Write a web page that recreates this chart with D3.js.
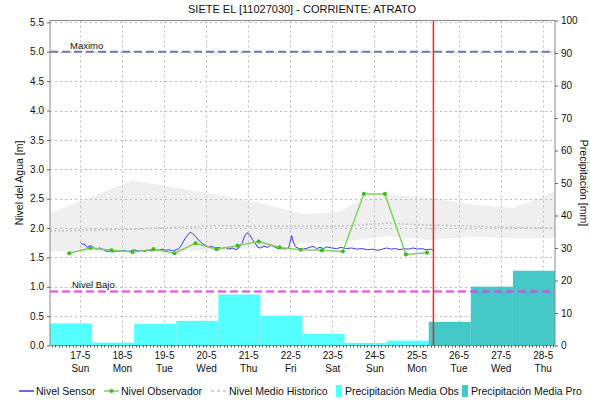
<!DOCTYPE html>
<html>
<head>
<meta charset="utf-8">
<script src="https://cdn.jsdelivr.net/npm/d3@7"></script>
<style>
  body { margin: 0; background: #fff; }
  text { font-family: "Liberation Sans", Arial, sans-serif; fill: #111; }
</style>
</head>
<body>
<div id="chart"></div>
<script>
// --- data ---
const dayLabels = ['17-5', '18-5', '19-5', '20-5', '21-5', '22-5', '23-5', '24-5', '25-5', '26-5', '27-5', '28-5'];
const weekDays = ['Sun', 'Mon', 'Tue', 'Wed', 'Thu', 'Fri', 'Sat', 'Sun', 'Mon', 'Tue', 'Wed', 'Thu'];
const levelTicks = [0, 0.5, 1, 1.5, 2, 2.5, 3, 3.5, 4, 4.5, 5, 5.5];
const rainTicks = [0, 10, 20, 30, 40, 50, 60, 70, 80, 90, 100];

const nivelMaximo = 5.0;
const nivelBajo = 0.92;
const ahora = '2020-05-25 09:40';

// precipitation, daily periods 07:00 -> 07:00 (mm)
const precipObsStart = ['2020-05-16 07:00', '2020-05-17 07:00', '2020-05-18 07:00', '2020-05-19 07:00', '2020-05-20 07:00',
  '2020-05-21 07:00', '2020-05-22 07:00', '2020-05-23 07:00', '2020-05-24 07:00'];
const precipObs = [6.8, 0.9, 6.7, 7.6, 15.7, 9.2, 3.6, 0.8, 1.5];
const precipProStart = ['2020-05-25 07:00', '2020-05-26 07:00', '2020-05-27 07:00'];
const precipPro = [7.3, 18.1, 23.0];

// historical band and mean
const histTimes = ['2020-05-16 07:00', '2020-05-18 06:00', '2020-05-20 07:00', '2020-05-21 07:00', '2020-05-22 07:00',
  '2020-05-23 03:00', '2020-05-23 15:00', '2020-05-24 07:00', '2020-05-25 07:00', '2020-05-26 07:00', '2020-05-27 07:00', '2020-05-28 07:00'];
const histMax = [2.25, 2.81, 2.56, 2.42, 2.24, 2.27, 2.45, 2.57, 2.52, 2.40, 2.34, 2.62];
const histMin = [1.60, 1.60, 1.62, 1.66, 1.74, 1.77, 1.80, 1.86, 1.80, 1.85, 1.83, 1.83];
const histMedio = [1.95, 1.98, 2.04, 2.03, 2.03, 2.03, 2.05, 2.08, 2.05, 2.03, 2.01, 2.00];

// observer readings (06:00 / 18:00)
const obsTimes = ['2020-05-16 18:00', '2020-05-17 06:00', '2020-05-17 18:00', '2020-05-18 06:00', '2020-05-18 18:00',
  '2020-05-19 06:00', '2020-05-19 18:00', '2020-05-20 06:00', '2020-05-20 18:00', '2020-05-21 06:00', '2020-05-21 18:00',
  '2020-05-22 06:00', '2020-05-22 18:00', '2020-05-23 06:00', '2020-05-23 18:00', '2020-05-24 06:00', '2020-05-24 18:00', '2020-05-25 06:00'];
const obsValues = [1.57, 1.66, 1.62, 1.59, 1.64, 1.57, 1.74, 1.64, 1.70, 1.77, 1.67, 1.63, 1.62, 1.60, 2.58, 2.58, 1.55, 1.58];

// sensor series
const sensor = [
  ['2020-05-17 00:30', 1.75], ['2020-05-17 01:30', 1.72], ['2020-05-17 02:30', 1.73], ['2020-05-17 03:30', 1.69],
  ['2020-05-17 04:30', 1.67], ['2020-05-17 05:30', 1.70], ['2020-05-17 06:45', 1.69], ['2020-05-17 08:00', 1.66],
  ['2020-05-17 09:30', 1.64], ['2020-05-17 11:00', 1.66], ['2020-05-17 12:30', 1.65], ['2020-05-17 14:00', 1.62],
  ['2020-05-17 15:30', 1.60], ['2020-05-17 17:00', 1.61], ['2020-05-17 19:00', 1.59], ['2020-05-17 21:00', 1.61],
  ['2020-05-17 23:00', 1.60], ['2020-05-18 01:00', 1.62], ['2020-05-18 03:00', 1.60], ['2020-05-18 05:00', 1.61],
  ['2020-05-18 07:00', 1.63], ['2020-05-18 09:00', 1.61], ['2020-05-18 11:00', 1.62], ['2020-05-18 13:00', 1.60],
  ['2020-05-18 15:00', 1.62], ['2020-05-18 17:00', 1.61], ['2020-05-18 19:00', 1.63], ['2020-05-18 21:00', 1.62],
  ['2020-05-18 23:00', 1.64], ['2020-05-19 01:00', 1.62], ['2020-05-19 03:00', 1.63], ['2020-05-19 05:00', 1.61],
  ['2020-05-19 07:00', 1.63], ['2020-05-19 08:30', 1.65], ['2020-05-19 10:00', 1.71], ['2020-05-19 12:00', 1.82],
  ['2020-05-19 13:30', 1.88], ['2020-05-19 15:00', 1.93], ['2020-05-19 16:30', 1.90], ['2020-05-19 18:00', 1.86],
  ['2020-05-19 19:30', 1.80], ['2020-05-19 21:00', 1.76], ['2020-05-19 22:30', 1.72], ['2020-05-20 00:00', 1.70],
  ['2020-05-20 01:30', 1.67], ['2020-05-20 03:00', 1.69], ['2020-05-20 05:00', 1.66], ['2020-05-20 07:00', 1.67],
  ['2020-05-20 09:00', 1.65], ['2020-05-20 11:00', 1.67], ['2020-05-20 13:00', 1.64], ['2020-05-20 15:00', 1.66],
  ['2020-05-20 17:00', 1.63], ['2020-05-20 19:00', 1.67], ['2020-05-20 20:30', 1.74], ['2020-05-20 22:00', 1.86],
  ['2020-05-20 23:30', 1.92], ['2020-05-21 01:00', 1.88], ['2020-05-21 02:30', 1.80], ['2020-05-21 04:00', 1.74],
  ['2020-05-21 05:30', 1.67], ['2020-05-21 07:00', 1.66], ['2020-05-21 09:00', 1.69], ['2020-05-21 11:00', 1.67],
  ['2020-05-21 13:00', 1.71], ['2020-05-21 15:00', 1.68], ['2020-05-21 17:00', 1.65], ['2020-05-21 19:00', 1.66],
  ['2020-05-21 21:00', 1.64], ['2020-05-21 23:00', 1.66], ['2020-05-21 23:50', 1.75], ['2020-05-22 00:50', 1.87],
  ['2020-05-22 01:45', 1.76], ['2020-05-22 03:00', 1.68], ['2020-05-22 05:00', 1.65], ['2020-05-22 07:30', 1.64],
  ['2020-05-22 10:00', 1.66], ['2020-05-22 13:00', 1.69], ['2020-05-22 15:00', 1.65], ['2020-05-22 17:00', 1.67],
  ['2020-05-22 19:00', 1.65], ['2020-05-22 21:00', 1.68], ['2020-05-22 23:30', 1.66], ['2020-05-23 02:30', 1.65],
  ['2020-05-23 05:00', 1.67], ['2020-05-23 08:00', 1.65], ['2020-05-23 11:00', 1.66], ['2020-05-23 14:00', 1.64],
  ['2020-05-23 17:00', 1.65], ['2020-05-23 20:00', 1.63], ['2020-05-23 23:00', 1.64], ['2020-05-24 02:00', 1.62],
  ['2020-05-24 04:30', 1.64], ['2020-05-24 07:00', 1.66], ['2020-05-24 09:30', 1.64], ['2020-05-24 12:00', 1.65],
  ['2020-05-24 14:30', 1.63], ['2020-05-24 17:00', 1.65], ['2020-05-24 19:30', 1.64], ['2020-05-24 22:00', 1.66],
  ['2020-05-25 00:30', 1.64], ['2020-05-25 03:00', 1.65], ['2020-05-25 05:30', 1.63], ['2020-05-25 08:00', 1.64],
  ['2020-05-25 09:40', 1.62]
];

// --- chart ---
const W = 590, H = 400;
const plotL = 50, plotR = 555, plotT = 20.5, plotB = 345.5;
const parse = d3.utcParse('%Y-%m-%d %H:%M');
const DAY = 864e5;

const svg = d3.select('#chart').append('svg').attr('width', W).attr('height', H);

const x = d3.scaleUtc()
  .domain([parse('2020-05-16 07:00'), parse('2020-05-28 07:00')])
  .range([plotL, plotR]);
const yL = d3.scaleLinear().domain([0, 5.5]).range([plotB, plotB - 5.5 * 58.75]);
const yR = d3.scaleLinear().domain([0, 100]).range([plotB, plotT]);

const dayTicks = dayLabels.map((d, i) => new Date(Date.UTC(2020, 4, 17 + i)));

// historical band
const hist = histTimes.map((t, i) => ({t: parse(t), max: histMax[i], min: histMin[i], mid: histMedio[i]}));
svg.append('path')
  .datum(hist)
  .attr('fill', '#efefef')
  .attr('d', d3.area().x(d => x(d.t)).y0(d => yL(d.min)).y1(d => yL(d.max)));

// grid
const grid = svg.append('g').attr('stroke', '#bcbcbc').attr('stroke-dasharray', '2,3').attr('stroke-width', 1);
grid.selectAll('.hg').data(levelTicks.slice(1)).enter().append('line')
  .attr('x1', plotL).attr('x2', plotR)
  .attr('y1', d => Math.round(yL(d)) + 0.5).attr('y2', d => Math.round(yL(d)) + 0.5);
grid.selectAll('.vg').data(dayTicks).enter().append('line')
  .attr('x1', d => Math.round(x(d)) + 0.5).attr('x2', d => Math.round(x(d)) + 0.5)
  .attr('y1', plotT).attr('y2', plotB);

// historical mean (dotted)
svg.append('path')
  .datum(hist)
  .attr('fill', 'none')
  .attr('stroke', '#c4c4c4')
  .attr('stroke-width', 1.5)
  .attr('stroke-dasharray', '2,2')
  .attr('d', d3.line().x(d => x(d.t)).y(d => yL(d.mid)));

// precipitation bars
const bars = svg.append('g');
bars.selectAll('.obs').data(precipObs).enter().append('rect')
  .attr('x', (d, i) => x(parse(precipObsStart[i])))
  .attr('width', (d, i) => x(new Date(+parse(precipObsStart[i]) + DAY)) - x(parse(precipObsStart[i])))
  .attr('y', d => yR(d))
  .attr('height', d => yR(0) - yR(d))
  .attr('fill', '#55ffff');
bars.selectAll('.pro').data(precipPro).enter().append('rect')
  .attr('x', (d, i) => x(parse(precipProStart[i])))
  .attr('width', (d, i) => x(new Date(+parse(precipProStart[i]) + DAY)) - x(parse(precipProStart[i])))
  .attr('y', d => yR(d))
  .attr('height', d => yR(0) - yR(d))
  .attr('fill', '#44c8c8');

// sensor line
svg.append('path')
  .datum(sensor)
  .attr('fill', 'none')
  .attr('stroke', '#3b3bf5')
  .attr('stroke-width', 1)
  .attr('d', d3.line().x(d => x(parse(d[0]))).y(d => yL(d[1])));

// observer line
const obs = obsTimes.map((t, i) => ({t: parse(t), v: obsValues[i]}));
svg.append('path')
  .datum(obs)
  .attr('fill', 'none')
  .attr('stroke', '#7fd35a')
  .attr('stroke-width', 1.5)
  .attr('d', d3.line().x(d => x(d.t)).y(d => yL(d.v)));
svg.selectAll('.om').data(obs).enter().append('circle')
  .attr('cx', d => x(d.t)).attr('cy', d => yL(d.v)).attr('r', 2.1)
  .attr('fill', '#3fbf1f');

// thresholds
svg.append('line')
  .attr('x1', plotL).attr('x2', plotR)
  .attr('y1', yL(nivelMaximo)).attr('y2', yL(nivelMaximo))
  .attr('stroke', '#6b7cab').attr('stroke-width', 2).attr('stroke-dasharray', '8,4');
svg.append('text').attr('x', 70).attr('y', yL(nivelMaximo) - 3)
  .attr('font-size', 9.5).text('Maximo');
svg.append('line')
  .attr('x1', plotL).attr('x2', plotR)
  .attr('y1', yL(nivelBajo)).attr('y2', yL(nivelBajo))
  .attr('stroke', '#ee40ee').attr('stroke-width', 2).attr('stroke-dasharray', '8,4');
svg.append('text').attr('x', 72).attr('y', yL(nivelBajo) - 3)
  .attr('font-size', 9.5).text('Nivel Bajo');

// current time marker
const xNow = x(parse(ahora));
svg.append('line')
  .attr('x1', xNow).attr('x2', xNow).attr('y1', plotT).attr('y2', plotB)
  .attr('stroke', '#e02a2a').attr('stroke-width', 1.5);

// frame
svg.append('rect')
  .attr('x', plotL).attr('y', plotT).attr('width', plotR - plotL).attr('height', plotB - plotT)
  .attr('fill', 'none').attr('stroke', '#8a8a8a');

// left axis
const axL = svg.append('g').attr('transform', `translate(${plotL},0)`)
  .call(d3.axisLeft(yL).tickValues(levelTicks).tickFormat(d3.format('.1f')).tickSize(3));
axL.select('.domain').remove();
axL.selectAll('line').attr('stroke', '#666');
axL.selectAll('text').attr('font-size', 10).attr('fill', '#111').attr('font-family', '"Liberation Sans", Arial, sans-serif');

// right axis
const axR = svg.append('g').attr('transform', `translate(${plotR},0)`)
  .call(d3.axisRight(yR).tickValues(rainTicks).tickSize(3));
axR.select('.domain').remove();
axR.selectAll('line').attr('stroke', '#666');
axR.selectAll('text').attr('font-size', 10).attr('fill', '#111').attr('font-family', '"Liberation Sans", Arial, sans-serif');

// bottom axis: minor ticks every 2 hours + day labels
const minor = d3.utcHour.every(2).range(x.domain()[0], x.domain()[1]);
svg.append('g').selectAll('line').data(minor).enter().append('line')
  .attr('x1', d => Math.round(x(d)) + 0.5).attr('x2', d => Math.round(x(d)) + 0.5)
  .attr('y1', plotB).attr('y2', plotB + 2)
  .attr('stroke', '#555');
const axB = svg.append('g').attr('transform', `translate(0,${plotB})`)
  .call(d3.axisBottom(x).tickValues(dayTicks).tickSize(0).tickPadding(0).tickFormat(() => ''));
axB.select('.domain').remove();
axB.selectAll('.tick text').each(function(d, i) {
  const t = d3.select(this).attr('font-size', 10).attr('fill', '#111')
    .attr('font-family', '"Liberation Sans", Arial, sans-serif').attr('dy', null).attr('y', 0);
  t.append('tspan').attr('x', 0).attr('y', 13).text(dayLabels[i]);
  t.append('tspan').attr('x', 0).attr('y', 26).text(weekDays[i]);
});

// titles
svg.append('text').attr('x', 302).attr('y', 13).attr('text-anchor', 'middle')
  .attr('font-size', 11).text('SIETE EL [11027030] - CORRIENTE: ATRATO');
svg.append('text').attr('transform', `translate(23,${(plotT + plotB) / 2}) rotate(-90)`)
  .attr('text-anchor', 'middle').attr('font-size', 10.5).text('Nivel del Agua [m]');
svg.append('text').attr('transform', `translate(580,${(plotT + plotB) / 2}) rotate(90)`)
  .attr('text-anchor', 'middle').attr('font-size', 10.5).text('Precipitación [mm]');

// legend
const lg = svg.append('g').attr('font-size', 10.5);
const ly = 391;
lg.append('line').attr('x1', 19).attr('x2', 34).attr('y1', ly).attr('y2', ly).attr('stroke', '#1a1ae0').attr('stroke-width', 1.3);
lg.append('text').attr('x', 36).attr('y', ly + 4).text('Nivel Sensor');
lg.append('line').attr('x1', 104).attr('x2', 119).attr('y1', ly).attr('y2', ly).attr('stroke', '#7fd35a').attr('stroke-width', 1.5);
lg.append('circle').attr('cx', 111.5).attr('cy', ly).attr('r', 2).attr('fill', '#3fbf1f');
lg.append('text').attr('x', 121).attr('y', ly + 4).text('Nivel Observador');
lg.append('line').attr('x1', 211).attr('x2', 226).attr('y1', ly).attr('y2', ly).attr('stroke', '#c4c4c4').attr('stroke-width', 1.5).attr('stroke-dasharray', '3,3');
lg.append('text').attr('x', 229).attr('y', ly + 4).text('Nivel Medio Historico');
lg.append('rect').attr('x', 336).attr('y', ly - 6).attr('width', 6).attr('height', 12).attr('fill', '#55ffff');
lg.append('text').attr('x', 345).attr('y', ly + 4).text('Precipitación Media Obs');
lg.append('rect').attr('x', 462).attr('y', ly - 6).attr('width', 6).attr('height', 12).attr('fill', '#44c8c8');
lg.append('text').attr('x', 471).attr('y', ly + 4).text('Precipitación Media Pro');
</script>
</body>
</html>
